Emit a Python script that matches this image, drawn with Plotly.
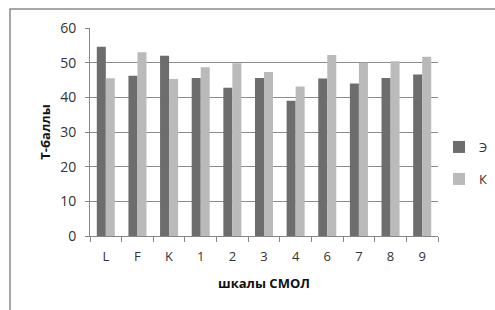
import plotly.graph_objects as go

categories = ["L", "F", "K", "1", "2", "3", "4", "6", "7", "8", "9"]
series_e = [54.6, 46.2, 52.0, 45.6, 42.8, 45.6, 39.0, 45.4, 44.0, 45.6, 46.6]
series_k = [45.5, 53.0, 45.3, 48.7, 49.8, 47.3, 43.1, 52.2, 50.0, 50.4, 51.7]
y_ticks = [0, 10, 20, 30, 40, 50, 60]

W, H = 495, 310
L, R, T, B = 90, 57, 28, 74
pw, ph = W - L - R, H - T - B

FONT = "Open Sans"
fig = go.Figure()
fig.add_trace(go.Bar(x=categories, y=series_e, name="Э", marker_color="#6d6d6d",
                     marker_line_width=0, legend="legend"))
fig.add_trace(go.Bar(x=categories, y=series_k, name="К", marker_color="#bababa",
                     marker_line_width=0, legend="legend2"))

def px_x(p):
    return (p - L) / pw

def px_y(p):
    return 1 - (p - T) / ph

fig.update_layout(
    width=W, height=H,
    margin=dict(l=L, r=R, t=T, b=B, autoexpand=False),
    paper_bgcolor="white", plot_bgcolor="white",
    font=dict(family=FONT, size=13, color="#333333"),
    bargap=0.43, bargroupgap=0,
    barmode="group",
    xaxis=dict(
        type="category",
        showgrid=False,
        showline=True, linecolor="#868686", linewidth=1,
        ticks="outside", ticklen=5, tickcolor="#868686", tickson="boundaries",
        ticklabelstandoff=8,
        tickfont=dict(size=13, color="#333333"),
        title=dict(text="<b>шкалы СМОЛ</b>", font=dict(size=13, color="#111111"), standoff=15),
    ),
    yaxis=dict(
        range=[0, 60], tickvals=y_ticks,
        showgrid=True, gridcolor="#8c8c8c", gridwidth=1,
        showline=True, linecolor="#868686", linewidth=1,
        ticks="outside", ticklen=4, tickcolor="#868686",
        ticklabelstandoff=6,
        zeroline=False,
        tickfont=dict(size=14, color="#333333"),
        title=dict(text="<b>Т-баллы</b>", font=dict(size=13, color="#111111"), standoff=6),
    ),
    legend=dict(x=px_x(439), y=px_y(132), xanchor="left", yanchor="top",
                font=dict(size=13, color="#333333"), bgcolor="rgba(0,0,0,0)"),
    legend2=dict(x=px_x(439), y=px_y(164), xanchor="left", yanchor="top",
                 font=dict(size=13, color="#333333"), bgcolor="rgba(0,0,0,0)"),
    showlegend=True,
)

# outer chart frame: left and top edges; the right/bottom edges lie outside the picture
fig.add_shape(type="rect", xref="paper", yref="paper", layer="above",
              x0=px_x(10), x1=px_x(W + 20), y0=px_y(9), y1=px_y(H + 20),
              line=dict(color="#8a8a8a", width=1.5), fillcolor="rgba(0,0,0,0)")

fig.write_html("out.html", config={"displayModeBar": False},
               post_script="document.body.style.margin='0';")
